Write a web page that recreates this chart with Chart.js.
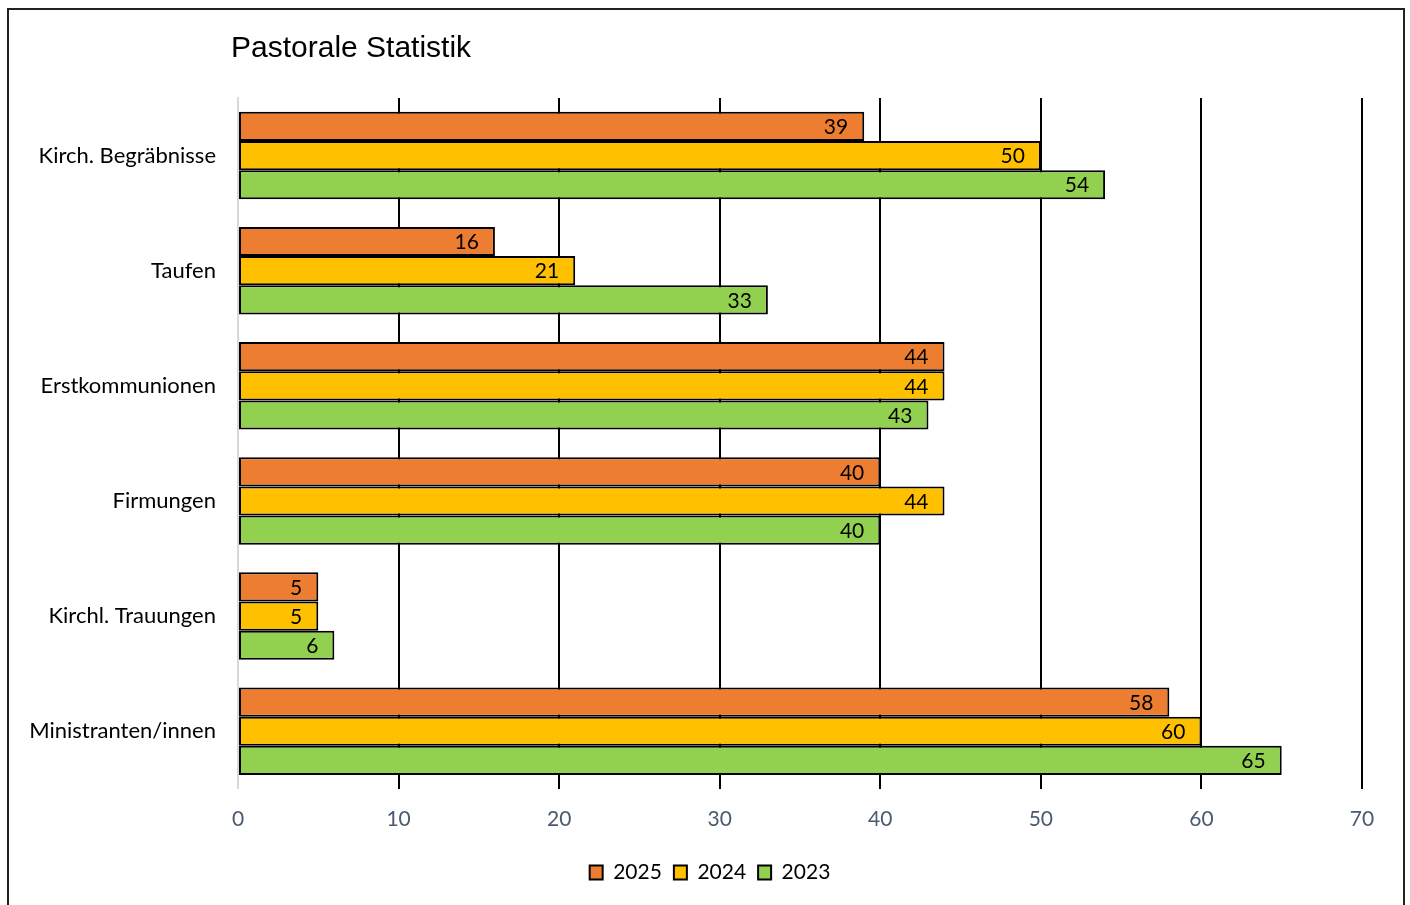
<!DOCTYPE html>
<html>
<head>
  <title>Pastorale Statistik</title>
  <script src="https://cdn.jsdelivr.net/npm/chart.js"></script>
  <style>
    html, body { margin: 0; padding: 0; background: #fff; }
    #rahmen {
      position: absolute; left: 7px; top: 8px; width: 1398px; height: 910px;
      border: 2px solid #222; box-sizing: border-box; pointer-events: none;
    }
    #wrap { position: absolute; left: 0; top: 0; width: 1410px; height: 905px; }
  </style>
</head>
<body>
  <div id="wrap"><canvas id="grafik" width="1410" height="905"></canvas></div>
  <div id="rahmen"></div>

  <script>
    const kategorien = ['Kirch. Begräbnisse', 'Taufen', 'Erstkommunionen', 'Firmungen', 'Kirchl. Trauungen', 'Ministranten/innen'];
    const werte2025 = [39, 16, 44, 40, 5, 58];
    const werte2024 = [50, 21, 44, 44, 5, 60];
    const werte2023 = [54, 33, 43, 40, 6, 65];
    const jahre = ['2025', '2024', '2023'];
    const farben = ['#ED7D31', '#FFC000', '#92D050'];
    const xTicks = [0, 10, 20, 30, 40, 50, 60, 70];

    const schrift = 'Lato, "Open Sans", sans-serif';

    // Werte innen am Balkenende schreiben
    const werteLabels = {
      id: 'werteLabels',
      afterDatasetsDraw(chart) {
        const ctx = chart.ctx;
        ctx.save();
        ctx.font = '21px ' + schrift;
        ctx.fillStyle = '#000';
        ctx.textAlign = 'right';
        ctx.textBaseline = 'middle';
        chart.data.datasets.forEach((ds, i) => {
          chart.getDatasetMeta(i).data.forEach((bar, j) => {
            ctx.fillText(ds.data[j], bar.x - 16, bar.y + 1);
          });
        });
        ctx.restore();
      }
    };

    // Titel etwas nach links, Legende mittig unter dem ganzen Rahmen
    const verschieben = {
      id: 'verschieben',
      afterLayout(chart) {
        if (chart.titleBlock) { chart.titleBlock.left -= 7; chart.titleBlock.right -= 7; }
        if (chart.legend) { chart.legend.left += 29; chart.legend.right += 29; }
      }
    };

    const ctx = document.getElementById('grafik').getContext('2d');
    const chart = new Chart(ctx, {
      type: 'bar',
      data: {
        labels: kategorien,
        datasets: [werte2025, werte2024, werte2023].map((d, i) => ({
          label: jahre[i],
          data: d,
          backgroundColor: farben[i],
          borderColor: '#000',
          borderWidth: 2,
          borderSkipped: false,
          barPercentage: 1,
          categoryPercentage: 0.76
        }))
      },
      options: {
        indexAxis: 'y',
        responsive: false,
        animation: false,
        layout: { padding: { top: 10, right: 48, bottom: 12, left: 0 } },
        plugins: {
          title: {
            display: true,
            text: 'Pastorale Statistik',
            align: 'start',
            fullSize: false,
            color: '#000',
            font: { family: '"Liberation Sans", Arial, sans-serif', size: 30, weight: 'normal' },
            padding: { top: 21, bottom: 31 }
          },
          legend: {
            position: 'bottom',
            labels: {
              color: '#000',
              font: { family: schrift, size: 21 },
              boxWidth: 13,
              boxHeight: 14,
              padding: 12
            }
          },
          tooltip: { enabled: false }
        },
        scales: {
          x: {
            min: 0,
            max: 70,
            afterBuildTicks: s => { s.ticks = xTicks.map(v => ({ value: v })); },
            border: { display: false },
            grid: {
              color: c => (c.tick && c.tick.value === 0) ? 'rgba(0,0,0,0)' : '#000',
              lineWidth: 2,
              drawTicks: false
            },
            ticks: {
              color: '#4A5A70',
              font: { family: schrift, size: 21 },
              padding: 18
            }
          },
          y: {
            afterFit: s => { s.width = 238; },
            border: { display: true, color: '#D9D9D9', width: 2 },
            grid: { display: false, drawTicks: false },
            ticks: {
              color: '#000',
              font: { family: schrift, size: 22 },
              padding: 22
            }
          }
        }
      },
      plugins: [werteLabels, verschieben]
    });
  </script>
</body>
</html>
